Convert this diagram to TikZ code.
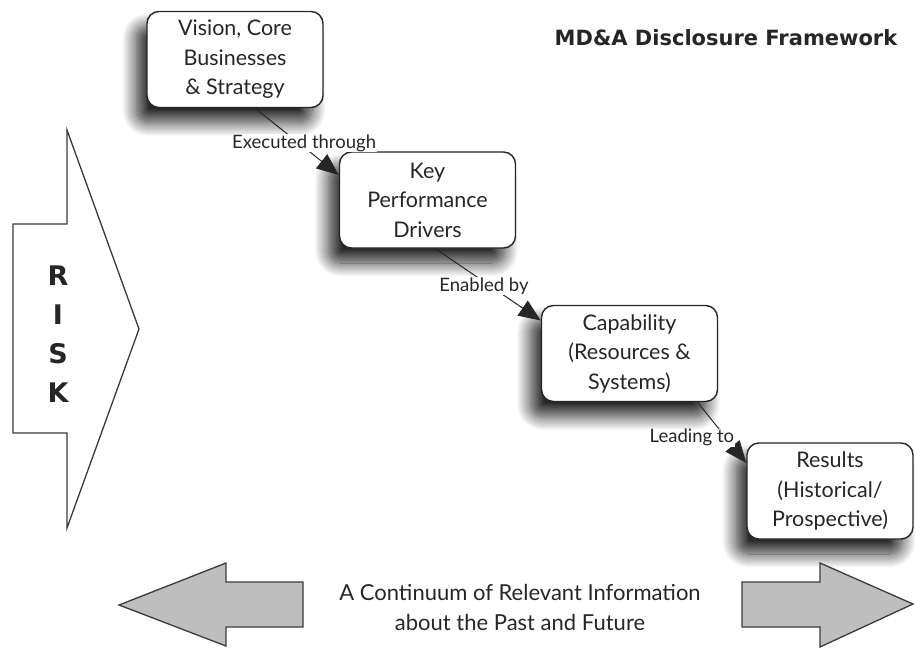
\documentclass[tikz,border=0pt]{standalone}
\usepackage{fontspec}
\setmainfont{Lato}
\newfontfamily\headfont{DejaVu Sans}
\usetikzlibrary{arrows.meta,shadows.blur,calc}
\definecolor{ink}{HTML}{262626}
\definecolor{edge}{HTML}{3A3A3A}
\definecolor{arrowgray}{HTML}{BEBEBE}
\begin{document}
\begin{tikzpicture}[x=1pt,y=-1pt,
  stagebox/.style={draw=ink, line width=1.4pt, rounded corners=12pt, fill=white,
    minimum width=176pt, minimum height=96pt, align=center, text=ink,
    font=\fontsize{21.5}{29.5}\selectfont, inner sep=0pt,
    blur shadow={shadow xshift=-11pt, shadow yshift=-15pt,
      shadow blur radius=14pt, shadow blur steps=16, shadow opacity=85}},
  link/.style={draw=ink, line width=1pt, -{Triangle[length=22pt,width=18pt]}},
  linklabel/.style={fill=white, inner sep=0.5pt, text=ink,
    font=\fontsize{18.5}{20}\selectfont},
  bigarrow/.style={draw=edge, line width=1.3pt, line join=miter},
]
% page frame
\path[use as bounding box] (0,0) rectangle (915,648);

% risk arrow on the left
\draw[bigarrow, fill=white] (13,224) -- (67,224) -- (67,130) -- (139,329)
  -- (67,528) -- (67,433) -- (13,433) -- cycle;
\node[font=\headfont\bfseries\fontsize{27}{39}\selectfont, text=ink, align=center]
  (risk) at (58,334) {R\\I\\S\\K};

% title
\node[font=\headfont\bfseries\fontsize{21}{24}\selectfont, text=ink, anchor=base]
  (title) at (726,45) {MD\&A Disclosure Framework};

% the four stages
\node[stagebox] (vis) at (235,59.5) {Vision, Core\\Businesses\\\& Strategy};
\node[stagebox] (kpd) at (427.5,200) {Key\\Performance\\Drivers};
\node[stagebox] (cap) at (629.5,353.5) {Capability\\(Resources \&\\Systems)};
\node[stagebox, minimum width=166pt] (res) at (830,491)
  {Results\\(Historical/\\Prospective)};

% connectors between stages
\draw[link] ($(vis.south)+(20,0)$) --
  node[linklabel, pos=0.55, xshift=3pt, yshift=2pt] (l1) {Executed through}
  ($(kpd.west)+(0,-25)$);
\draw[link] ($(kpd.south)+(8,0)$) --
  node[linklabel, pos=0.48, xshift=-2pt, yshift=-3pt] (l2) {Enabled by}
  ($(cap.west)+(0,-33)$);
\draw[link] ($(cap.south)+(68,0)$) --
  node[linklabel, pos=0.5, xshift=-30pt, yshift=-5pt] (l3) {Leading to}
  ($(res.west)+(0,-28)$);

% continuum arrows along the bottom
\draw[bigarrow, fill=arrowgray] (303,582) -- (226,582) -- (226,563) -- (119,605)
  -- (226,646) -- (226,627) -- (303,627) -- cycle;
\draw[bigarrow, fill=arrowgray] (742,582) -- (820,582) -- (820,563) -- (913,604)
  -- (820,647) -- (820,627) -- (742,627) -- cycle;
\node[align=center, text=ink, font=\fontsize{22}{30}\selectfont] (cont) at (520,607)
  {A Continuum of Relevant Information\\about the Past and Future};
\end{tikzpicture}
\end{document}
